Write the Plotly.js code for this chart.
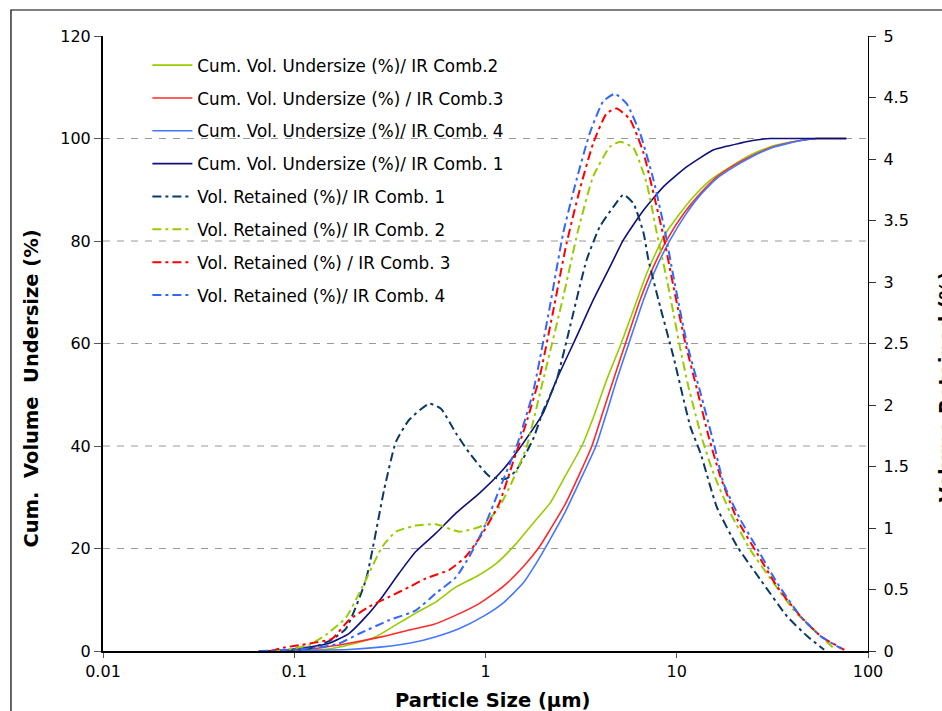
<!DOCTYPE html>
<html>
<head>
<meta charset="utf-8">
<script src="https://cdn.plot.ly/plotly-3.0.1.min.js"></script>
<style>html,body{margin:0;padding:0;background:#fff;}#chart{width:942px;height:711px;}</style>
</head>
<body>
<div id="chart"></div>
<script>
// ---- Data ----
// Cumulative volume undersize (%), left axis
const cum1Size = [0.065, 0.08, 0.106, 0.152, 0.193, 0.237, 0.289, 0.354, 0.432, 0.551, 0.701, 0.931, 1.23, 1.57, 2.0, 2.35, 2.99, 3.66, 4.48, 5.26, 6.70, 8.53, 11.3, 15.6, 21.5, 26, 31, 40, 50, 62, 77];
const cum1Val  = [0, 0.1, 0.5, 1.5, 3.4, 6.7, 10.6, 15.2, 19.4, 23.0, 26.9, 30.8, 35.3, 40.5, 46.4, 52.9, 61.3, 68.5, 75.0, 80.2, 86.0, 90.6, 94.5, 97.8, 99.1, 99.7, 100, 100, 100, 100, 100];

const cum2Size = [0.1, 0.13, 0.158, 0.209, 0.267, 0.340, 0.432, 0.551, 0.701, 0.893, 1.14, 1.45, 1.77, 2.17, 2.6, 3.19, 3.7, 4.30, 5.05, 5.93, 6.97, 8.53, 10.4, 12.2, 15.0, 19.1, 24.3, 32, 44.5, 54, 65, 77];
const cum2Val  = [0, 0.2, 0.5, 1.5, 2.8, 5.1, 7.4, 9.6, 12.5, 14.5, 17.1, 21.0, 24.9, 28.8, 34, 40, 46, 52.9, 59.4, 66.5, 73.7, 80.8, 85.4, 88.6, 91.9, 94.5, 96.8, 98.6, 99.6, 100, 100, 100];

const cum3Size = [0.09, 0.129, 0.193, 0.289, 0.399, 0.528, 0.701, 0.931, 1.23, 1.57, 1.92, 2.17, 2.6, 3.1, 3.6, 4.1, 4.66, 5.47, 6.43, 7.56, 8.88, 10.9, 13.3, 16.2, 20.0, 24.3, 32, 44.5, 54, 65, 77];
const cum3Val  = [0, 0.5, 1.5, 2.8, 4.1, 5.1, 7.0, 9.3, 12.5, 16.4, 20.4, 23.6, 28.5, 34.5, 40, 46.5, 52.9, 60.7, 68.5, 75.0, 80.2, 85.4, 89.3, 92.5, 94.8, 96.5, 98.4, 99.6, 100, 100, 100];

const cum4Size = [0.066, 0.1, 0.193, 0.289, 0.399, 0.551, 0.731, 0.968, 1.23, 1.57, 1.84, 2.17, 2.6, 3.1, 3.78, 4.3, 4.85, 5.70, 6.70, 7.86, 9.24, 11.1, 13.3, 16.2, 20.0, 24.3, 32, 44.5, 54, 65, 77];
const cum4Val  = [0, 0.1, 0.3, 0.8, 1.5, 2.8, 4.4, 6.7, 9.3, 13.2, 17.1, 21.7, 27.0, 33.0, 40, 46.5, 52.9, 60.7, 68.5, 75.0, 80.2, 85.1, 89.0, 92.2, 94.5, 96.3, 98.3, 99.6, 100, 100, 100];

// Volume retained (%), right axis
const ret1Size = [0.09, 0.12, 0.152, 0.186, 0.237, 0.295, 0.340, 0.399, 0.508, 0.585, 0.701, 0.824, 1.05, 1.28, 1.45, 1.77, 2.0, 2.35, 2.71, 3.38, 3.96, 4.66, 5.26, 5.93, 6.70, 7.11, 8.19, 9.62, 11.8, 13.3, 16.2, 20.7, 27.4, 37.8, 48.2, 59];
const ret1Val  = [0, 0.02, 0.08, 0.18, 0.58, 1.31, 1.70, 1.88, 2.01, 1.97, 1.77, 1.61, 1.42, 1.40, 1.47, 1.72, 1.95, 2.20, 2.58, 3.18, 3.45, 3.61, 3.71, 3.64, 3.40, 3.18, 2.80, 2.39, 1.82, 1.61, 1.17, 0.85, 0.58, 0.28, 0.12, 0.01];

const ret2Size = [0.08, 0.1, 0.12, 0.146, 0.186, 0.227, 0.289, 0.340, 0.432, 0.551, 0.731, 0.969, 1.18, 1.39, 1.64, 2.0, 2.55, 3.05, 3.66, 4.48, 5.05, 5.93, 6.97, 7.86, 8.88, 9.6, 10.4, 11.5, 13.6, 15.6, 19.1, 24.3, 32.2, 41, 52.3, 66.5];
const ret2Val  = [0, 0.02, 0.05, 0.13, 0.27, 0.52, 0.85, 0.97, 1.02, 1.03, 0.97, 1.02, 1.17, 1.39, 1.66, 2.20, 2.88, 3.42, 3.86, 4.10, 4.14, 4.09, 3.80, 3.40, 3.02, 2.75, 2.47, 2.15, 1.72, 1.44, 1.12, 0.82, 0.55, 0.33, 0.17, 0.02];

const ret3Size = [0.075, 0.09, 0.11, 0.13, 0.158, 0.193, 0.246, 0.313, 0.399, 0.488, 0.647, 0.791, 0.968, 1.18, 1.39, 1.63, 1.92, 2.25, 2.65, 3.11, 3.66, 4.30, 4.85, 5.70, 6.70, 7.56, 8.53, 9.62, 11.1, 12.8, 14.7, 16.9, 20.7, 26.4, 33.6, 44.5, 56.6, 75.2];
const ret3Val  = [0, 0.03, 0.05, 0.07, 0.10, 0.25, 0.36, 0.44, 0.52, 0.59, 0.66, 0.77, 0.96, 1.20, 1.53, 1.85, 2.23, 2.75, 3.31, 3.75, 4.13, 4.37, 4.41, 4.32, 4.05, 3.72, 3.37, 2.96, 2.50, 2.12, 1.74, 1.42, 1.07, 0.79, 0.52, 0.28, 0.12, 0.01];

const ret4Size = [0.066, 0.12, 0.171, 0.218, 0.313, 0.432, 0.551, 0.701, 0.824, 0.968, 1.18, 1.45, 1.77, 2.17, 2.55, 2.99, 3.51, 4.13, 4.75, 5.47, 6.43, 7.56, 8.71, 9.62, 11.3, 13.3, 15.6, 17.6, 21.5, 25.3, 33.6, 44.5, 56.6, 72.6];
const ret4Val  = [0, 0.02, 0.06, 0.14, 0.25, 0.33, 0.47, 0.60, 0.77, 0.98, 1.31, 1.66, 2.10, 2.80, 3.40, 3.83, 4.21, 4.47, 4.53, 4.45, 4.21, 3.83, 3.40, 3.04, 2.50, 2.10, 1.69, 1.36, 1.07, 0.88, 0.55, 0.28, 0.12, 0.02];

// Axis tick labels
const xTickVals = [0.01, 0.1, 1, 10, 100];
const xTickText = ["0.01", "0.1", "1", "10", "100"];
const yLeftTicks = [0, 20, 40, 60, 80, 100, 120];
const yRightTicks = [0, 0.5, 1, 1.5, 2, 2.5, 3, 3.5, 4, 4.5, 5];
const gridValues = [20, 40, 60, 80, 100];

// Series names
const names = [
  "Cum. Vol. Undersize (%)/ IR Comb.2",
  "Cum. Vol. Undersize (%) / IR Comb.3",
  "Cum. Vol. Undersize (%)/ IR Comb. 4",
  "Cum. Vol. Undersize (%)/ IR Comb. 1",
  "Vol. Retained (%)/ IR Comb. 1",
  "Vol. Retained (%)/ IR Comb. 2",
  "Vol. Retained (%) / IR Comb. 3",
  "Vol. Retained (%)/ IR Comb. 4"
];

// ---- Styling ----
const FONT = "DejaVu Sans, Verdana, sans-serif";
const DASHDOT = "9px,4px,3px,4px";
const solid = (x, y, name, color) => ({
  x: x, y: y, name: name, type: "scatter", mode: "lines", yaxis: "y",
  line: {color: color, width: 1.6, shape: "spline", smoothing: 0.5},
  legendgroup: name, hoverinfo: "skip"
});
const dashed = (x, y, name, color) => ({
  x: x, y: y, name: name, type: "scatter", mode: "lines", yaxis: "y2",
  line: {color: color, width: 2, dash: DASHDOT, shape: "spline", smoothing: 0.5},
  legendgroup: name, hoverinfo: "skip"
});

const data = [
  solid(cum2Size, cum2Val, names[0], "#99cc00"),
  solid(cum3Size, cum3Val, names[1], "#ff2a2a"),
  solid(cum4Size, cum4Val, names[2], "#4477ff"),
  solid(cum1Size, cum1Val, names[3], "#10107a"),
  dashed(ret1Size, ret1Val, names[4], "#0b3a66"),
  dashed(ret2Size, ret2Val, names[5], "#99cc00"),
  dashed(ret3Size, ret3Val, names[6], "#ff0000"),
  dashed(ret4Size, ret4Val, names[7], "#3366ff")
];

const shapes = gridValues.map(v => ({
  type: "line", xref: "paper", yref: "y", x0: 0, x1: 1, y0: v, y1: v,
  line: {color: "#9a9a9a", width: 1.2, dash: "7px,7px"}, layer: "below"
}));
// outer chart border
shapes.push({type: "rect", xref: "paper", yref: "paper",
  x0: -0.1203, x1: 1.13, y0: -0.115, y1: 1.0423,
  line: {color: "#000", width: 1.2}, fillcolor: "rgba(0,0,0,0)"});

const layout = {
  width: 942, height: 711,
  margin: {l: 103, r: 74, t: 36, b: 60},
  paper_bgcolor: "#fff", plot_bgcolor: "#fff",
  font: {family: FONT, size: 16, color: "#000"},
  showlegend: true,
  legend: {
    x: 0.058, y: 0.981, xanchor: "left", yanchor: "top",
    bgcolor: "rgba(0,0,0,0)", borderwidth: 0,
    font: {family: FONT, size: 16.8, color: "#000"},
    traceorder: "grouped", tracegroupgap: 8, itemwidth: 40
  },
  xaxis: {
    type: "log", range: [-2, 2],
    tickvals: xTickVals, ticktext: xTickText,
    showgrid: false, zeroline: false,
    showline: true, linecolor: "#000", linewidth: 1.5,
    ticks: "outside", ticklen: 5, tickcolor: "#555",
    tickfont: {family: FONT, size: 16}
  },
  yaxis: {
    range: [0, 120], tickvals: yLeftTicks,
    showgrid: false, zeroline: false,
    showline: true, linecolor: "#000", linewidth: 2,
    ticks: "outside", ticklen: 7, tickcolor: "#555",
    tickfont: {family: FONT, size: 16}
  },
  yaxis2: {
    range: [0, 5], tickvals: yRightTicks, overlaying: "y", side: "right",
    showgrid: false, zeroline: false,
    showline: true, linecolor: "#000", linewidth: 1.2,
    ticks: "outside", ticklen: 7, tickcolor: "#333",
    ticklabelstandoff: 4,
    tickfont: {family: FONT, size: 16}
  },
  shapes: shapes,
  annotations: [
    {text: "Cum.\u00a0\u00a0Volume\u00a0\u00a0Undersize\u00a0(%)", xref: "paper", yref: "paper",
     x: -0.094, y: 0.427, xanchor: "center", yanchor: "middle", textangle: -90, showarrow: false,
     font: {family: FONT, size: 19.5, color: "#000", weight: "bold"}},
    {text: "Particle Size (\u00b5m)", xref: "paper", yref: "paper",
     x: 0.5085, y: -0.0797, xanchor: "center", yanchor: "middle", showarrow: false,
     font: {family: FONT, size: 19.5, color: "#000", weight: "bold"}},
    {text: "Volume Retained (%)", xref: "paper", yref: "paper",
     x: 1.103, y: 0.43, xanchor: "center", yanchor: "middle", textangle: -90, showarrow: false,
     font: {family: FONT, size: 19.5, color: "#000", weight: "bold"}}
  ]
};

Plotly.newPlot("chart", data, layout, {staticPlot: true, displayModeBar: false});
</script>
</body>
</html>
